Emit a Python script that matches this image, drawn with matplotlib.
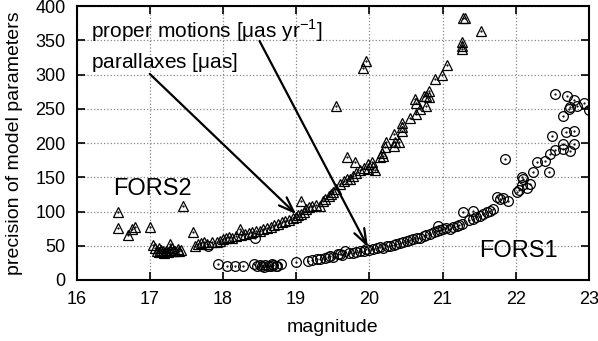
import matplotlib
matplotlib.use('Agg')
import matplotlib.pyplot as plt

plt.rcParams['font.family'] = ['Liberation Sans', 'DejaVu Sans']

# FORS2 (Dreiecke)
fors2_mag = [16.56, 16.56, 16.70, 16.76, 16.80, 17.01, 17.46, 17.59, 18.23, 19.07,
             19.55, 19.91, 19.96, 19.69, 19.80, 21.28, 21.30, 21.52,
             17.04, 17.07, 17.10, 17.12, 17.15, 17.18, 17.20, 17.22, 17.25, 17.28,
             17.30, 17.32, 17.35, 17.38, 17.40, 17.43, 17.13, 17.27,
             17.62, 17.66, 17.70, 17.74, 17.78, 17.85, 17.92, 17.96, 18.00, 18.04,
             18.08, 18.12, 18.18, 18.25, 18.30, 18.35, 18.40, 18.45, 18.50, 18.55,
             18.60, 18.65, 18.70, 18.75, 18.80, 18.85, 18.90, 18.95, 19.00, 19.03,
             19.06, 19.10, 19.14, 19.18, 19.22, 19.27, 19.32, 19.36, 19.40, 19.45,
             19.48, 19.50, 19.55, 19.60, 19.65, 19.70, 19.73, 19.78, 19.82, 19.87,
             19.92, 19.98, 19.98, 20.03, 20.05, 20.08, 20.14, 20.17, 20.19, 20.21,
             20.23, 20.33, 20.33, 20.35, 20.40, 20.45, 20.45, 20.45, 20.55, 20.62,
             20.64, 20.64, 20.69, 20.75, 20.77, 20.78, 20.82, 20.82, 20.89, 20.99,
             21.06, 21.27, 21.27, 21.27]
fors2_prec = [100, 76, 66, 74, 77, 77, 108, 70, 74, 116,
              254, 310, 320, 179, 172, 383, 382, 364,
              51, 46, 43, 41, 44, 42, 40, 43, 41, 44,
              47, 42, 43, 45, 42, 44, 47, 52,
              50, 52, 54, 55, 53, 55, 56, 57, 60, 62,
              63, 61, 64, 66, 67, 68, 70, 71, 72, 74,
              76, 78, 80, 82, 84, 86, 88, 90, 92, 95,
              97, 100, 104, 106, 108, 110, 108, 115, 118, 122,
              126, 128, 133, 140, 145, 148, 147, 152, 156, 160,
              163, 162, 169, 172, 165, 160, 179, 186, 181, 194,
              201, 196, 213, 201, 201, 230, 223, 218, 237, 265,
              259, 242, 250, 269, 254, 269, 276, 267, 293, 299,
              314, 347, 342, 337]

# FORS1 (Kreise)
fors1_mag = [17.93, 18.05, 18.16, 18.28, 18.42, 18.46, 18.50, 18.53, 18.56, 18.58,
             18.61, 18.65, 18.67, 18.69, 18.72, 18.74, 18.79, 17.80, 18.44,
             19.00, 19.16, 19.22, 19.28, 19.33, 19.39, 19.44, 19.50, 19.46, 19.57,
             19.60, 19.63, 19.67, 19.72, 19.78, 19.82, 19.87, 19.92, 19.96, 20.00,
             20.05, 20.10, 20.14, 20.18, 20.24, 20.28, 20.33, 20.37, 20.42, 20.46,
             20.51, 20.55, 20.60, 20.65, 20.69, 20.74, 20.78, 20.83, 20.88, 20.92,
             20.94, 20.97, 21.01, 21.05, 21.10, 21.14, 21.19, 21.23, 21.26, 21.28,
             21.36, 21.42, 21.42, 21.46, 21.51, 21.55, 21.60, 21.65, 21.69, 21.74,
             21.78, 21.83, 21.85, 21.90, 22.01, 22.05, 22.08, 22.08, 22.10, 22.15,
             22.20, 22.24, 22.29, 22.40, 22.45, 22.47, 22.49, 22.54, 22.54, 22.65,
             22.65, 22.65, 22.68, 22.70, 22.72, 22.74, 22.74, 22.79, 22.79, 22.79,
             22.84, 22.93, 23.00]
fors1_prec = [24, 21, 21, 21, 24, 20, 22, 21, 19, 22,
              20, 21, 23, 22, 20, 21, 24, 50, 62,
              26, 28, 29, 31, 30, 32, 33, 33, 35, 38,
              38, 36, 43, 39, 40, 41, 43, 42, 45, 44,
              45, 46, 48, 47, 49, 50, 51, 53, 54, 55,
              57, 58, 60, 62, 61, 64, 66, 67, 70, 72,
              79, 73, 74, 76, 74, 77, 79, 80, 82, 99,
              88, 101, 89, 92, 94, 96, 99, 101, 104, 121,
              118, 119, 177, 116, 128, 132, 138, 150, 147, 135,
              140, 157, 173, 174, 157, 184, 211, 190, 272, 240,
              199, 191, 216, 268, 250, 252, 189, 263, 218, 198,
              254, 258, 249]

fig = plt.figure(figsize=(5.98, 3.41), dpi=100)
ax = fig.add_axes([0.128, 0.179, 0.857, 0.803])

ax.plot(fors2_mag, fors2_prec, linestyle='none', marker='^', markersize=6.8,
        markerfacecolor='none', markeredgecolor='black', markeredgewidth=0.9)
ax.plot(fors1_mag, fors1_prec, linestyle='none', marker='o', markersize=7,
        markerfacecolor='none', markeredgecolor='black', markeredgewidth=0.9)
# kleine Punkte in der Mitte wie im Original
ax.plot(fors2_mag, fors2_prec, linestyle='none', marker='.', markersize=1.2, color='black')
ax.plot(fors1_mag, fors1_prec, linestyle='none', marker='.', markersize=1.2, color='black')

ax.set_xlim(16, 23)
ax.set_ylim(0, 400)
ax.set_xticks(range(16, 24))
ax.set_yticks(range(0, 401, 50))
ax.grid(True, color='#888888', linestyle=':', linewidth=0.9)
ax.tick_params(direction='in', length=6, width=1.2, top=True, right=True, labelsize=13)
ax.tick_params(axis='x', pad=8)
ax.tick_params(axis='y', pad=8)
for s in ax.spines.values():
    s.set_linewidth(1.5)

ax.set_xlabel('magnitude', fontsize=14, labelpad=8)
ax.set_ylabel('precision of model parameters', fontsize=14, labelpad=9)

ax.text(16.2, 364, r'proper motions [$\mathregular{\mu}$as yr$^{\mathregular{-1}}$]',
        fontsize=15, va='center')
ax.text(16.2, 318, r'parallaxes [$\mathregular{\mu}$as]', fontsize=15, va='center')
ax.text(17.04, 133, 'FORS2', fontsize=17, ha='center', va='center')
ax.text(22.03, 42, 'FORS1', fontsize=17, ha='center', va='center')

arrow = dict(arrowstyle='->,head_length=1.1,head_width=0.4', lw=1.6, color='black',
             shrinkA=0, shrinkB=0)
ax.annotate('', xy=(19.98, 48), xytext=(18.5, 349), arrowprops=arrow)
ax.annotate('', xy=(19.0, 96), xytext=(17.0, 301), arrowprops=arrow)

plt.savefig('out.png', dpi=100)
